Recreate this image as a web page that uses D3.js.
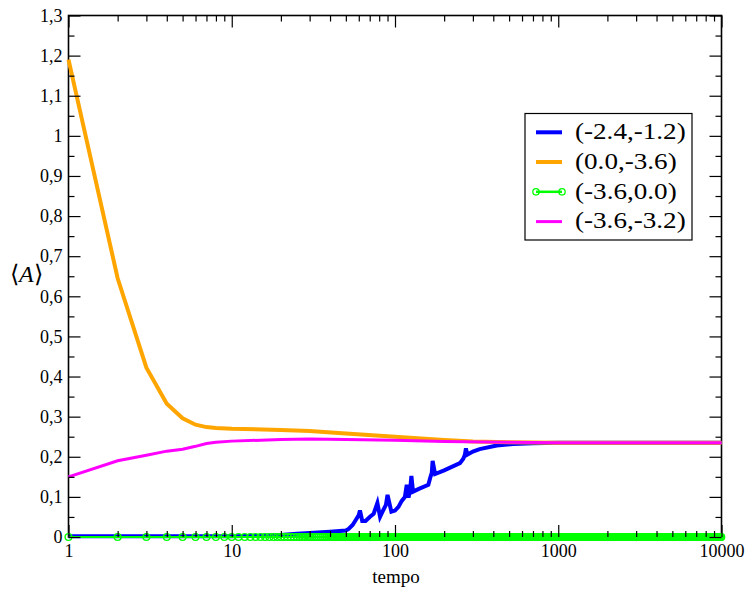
<!DOCTYPE html>
<html>
<head>
<meta charset="utf-8">
<script src="https://cdn.jsdelivr.net/npm/d3@7"></script>
</head>
<body style="margin:0">
<svg id="s" width="746" height="589"></svg>
<script>
// ---------- data ----------
const seriesNames = ["(-2.4,-1.2)", "(0.0,-3.6)", "(-3.6,0.0)", "(-3.6,-3.2)"];
const seriesColors = ["#0000ff", "#ffa500", "#00ff00", "#ff00ff"];

const blueT = [1, 2, 5, 10, 15, 20, 25, 30, 40, 50, 52, 55, 58, 60, 61, 63, 66, 70, 74, 78, 81, 85, 88, 90, 95, 100, 105, 110, 115, 118, 121, 124, 126, 129, 140, 160, 165, 168, 170, 176, 200, 250, 262, 268, 272, 277, 300, 330, 420, 530, 700, 1000, 2000, 10000];
const blueV = [0.002, 0.002, 0.002, 0.002, 0.003, 0.005, 0.008, 0.010, 0.013, 0.016, 0.020, 0.030, 0.045, 0.055, 0.066, 0.040, 0.040, 0.050, 0.058, 0.085, 0.050, 0.068, 0.080, 0.105, 0.063, 0.066, 0.075, 0.090, 0.100, 0.130, 0.098, 0.120, 0.152, 0.113, 0.120, 0.130, 0.150, 0.160, 0.190, 0.157, 0.166, 0.184, 0.195, 0.205, 0.221, 0.205, 0.213, 0.219, 0.228, 0.232, 0.234, 0.235, 0.235, 0.235];

const orangeT = [1, 2, 3, 4, 5, 6, 7, 8, 10, 20, 30, 50, 100, 200, 300, 500, 1000, 10000];
const orangeV = [1.19, 0.645, 0.422, 0.332, 0.296, 0.280, 0.274, 0.272, 0.270, 0.267, 0.264, 0.258, 0.250, 0.242, 0.238, 0.236, 0.235, 0.235];

// green: value 0 at every integer time step (circles merge into a band)
const greenT = d3.range(1, 10001);
const greenV = greenT.map(() => 0);

const magentaT = [1, 2, 3, 4, 5, 6, 7, 8, 10, 20, 30, 50, 100, 200, 500, 1000, 10000];
const magentaV = [0.150, 0.190, 0.204, 0.214, 0.219, 0.226, 0.233, 0.236, 0.239, 0.243, 0.244, 0.243, 0.241, 0.238, 0.236, 0.235, 0.235];

const xMajorTicks = [1, 10, 100, 1000, 10000];
const xTickLabels = ["1", "10", "100", "1000", "10000"];
const yMajorTicks = [0, 0.1, 0.2, 0.3, 0.4, 0.5, 0.6, 0.7, 0.8, 0.9, 1.0, 1.1, 1.2, 1.3];
const yTickLabels = ["0", "0,1", "0,2", "0,3", "0,4", "0,5", "0,6", "0,7", "0,8", "0,9", "1", "1,1", "1,2", "1,3"];

// ---------- layout ----------
const FONT = "serif";
const L = 68.5, R = 721.5, T = 15.5, B = 537;
const svg = d3.select("#s");
const font = (sel, size) => sel.attr("font-size", size).style("font-family", FONT);

const x = d3.scaleLog().domain([1, 10000]).range([L, R]);
const y = d3.scaleLinear().domain([0, 1.3]).range([B, T]);

const xMinor = [];
for (let d = 1; d < 10000; d *= 10) for (let k = 2; k <= 9; k++) xMinor.push(d * k);
const yMinor = yMajorTicks.slice(0, -1).map(v => +(v + 0.05).toFixed(2));

// frame
svg.append("rect").attr("x", L).attr("y", T).attr("width", R - L).attr("height", B - T)
  .attr("fill", "none").attr("stroke", "#000").attr("stroke-width", 1.6);

// ---------- series ----------
const line = d3.line().x(d => x(d[0])).y(d => y(d[1]));
const zip = (a, b) => a.map((t, i) => [t, b[i]]);

const plot = svg.append("g");
plot.append("path").datum(zip(blueT, blueV)).attr("d", line)
  .attr("fill", "none").attr("stroke", seriesColors[0]).attr("stroke-width", 4).attr("stroke-linejoin", "miter");
plot.append("path").datum(zip(orangeT, orangeV)).attr("d", line)
  .attr("fill", "none").attr("stroke", seriesColors[1]).attr("stroke-width", 4);
const gData = zip(greenT, greenV);
plot.append("path").datum(gData).attr("d", line)
  .attr("fill", "none").attr("stroke", seriesColors[2]).attr("stroke-width", 2);
// markers: one circle per distinct half-pixel column (denser ones coincide on screen)
const seen = new Set();
const gMarks = gData.filter(d => {
  const k = Math.round(x(d[0]) * 2);
  if (seen.has(k)) return false;
  seen.add(k); return true;
});
plot.append("g").selectAll("circle").data(gMarks).join("circle")
  .attr("cx", d => x(d[0])).attr("cy", d => y(d[1])).attr("r", 3.4)
  .attr("fill", "none").attr("stroke", seriesColors[2]).attr("stroke-width", 1.4);
plot.append("path").datum(zip(magentaT, magentaV)).attr("d", line)
  .attr("fill", "none").attr("stroke", seriesColors[3]).attr("stroke-width", 3);

// ---------- axes ----------
function styleAxis(g) {
  g.attr("font-family", null).attr("font-size", null);
  g.select(".domain").remove();
  g.selectAll(".tick line").attr("stroke", "#000").attr("stroke-width", 1.2);
  font(g.selectAll("text"), 18).attr("fill", "#000");
}
svg.append("g").attr("transform", `translate(0,${B})`)
  .call(d3.axisBottom(x).tickValues(xMajorTicks).tickSize(-12).tickPadding(7)
    .tickFormat((d, i) => xTickLabels[i])).call(styleAxis);
svg.append("g").attr("transform", `translate(0,${B})`)
  .call(d3.axisBottom(x).tickValues(xMinor).tickSize(-6).tickFormat("")).call(styleAxis);
svg.append("g").attr("transform", `translate(0,${T})`)
  .call(d3.axisTop(x).tickValues(xMajorTicks).tickSize(-12).tickFormat("")).call(styleAxis);
svg.append("g").attr("transform", `translate(0,${T})`)
  .call(d3.axisTop(x).tickValues(xMinor).tickSize(-6).tickFormat("")).call(styleAxis);
svg.append("g").attr("transform", `translate(${L},0)`)
  .call(d3.axisLeft(y).tickValues(yMajorTicks).tickSize(-12).tickPadding(6)
    .tickFormat((d, i) => yTickLabels[i])).call(styleAxis);
svg.append("g").attr("transform", `translate(${L},0)`)
  .call(d3.axisLeft(y).tickValues(yMinor).tickSize(-6).tickFormat("")).call(styleAxis);
svg.append("g").attr("transform", `translate(${R},0)`)
  .call(d3.axisRight(y).tickValues(yMajorTicks).tickSize(-12).tickFormat("")).call(styleAxis);
svg.append("g").attr("transform", `translate(${R},0)`)
  .call(d3.axisRight(y).tickValues(yMinor).tickSize(-6).tickFormat("")).call(styleAxis);

// axis titles
font(svg.append("text").attr("x", (L + R) / 2 + 1).attr("y", 583).attr("text-anchor", "middle"), 19)
  .text("tempo");
const yl = font(svg.append("text").attr("x", 10).attr("y", 282), 24);
yl.append("tspan").text("\u27E8");
yl.append("tspan").style("font-style", "italic").text("A");
yl.append("tspan").text("\u27E9");

// ---------- legend ----------
const lg = svg.append("g");
lg.append("rect").attr("x", 525).attr("y", 113.5).attr("width", 167).attr("height", 126.5)
  .attr("fill", "#fff").attr("stroke", "#000").attr("stroke-width", 1.2);
const rowY = [132.3, 162, 191.8, 221.6];
const textW = [110.7, 101.7, 101.7, 110.7];
const strokeW = [4, 4, 2.5, 3];
seriesNames.forEach((name, i) => {
  lg.append("line").attr("x1", 536).attr("x2", 562).attr("y1", rowY[i]).attr("y2", rowY[i])
    .attr("stroke", seriesColors[i]).attr("stroke-width", strokeW[i]);
  if (i === 2) {
    [536, 562].forEach(cx => lg.append("circle").attr("cx", cx).attr("cy", rowY[i]).attr("r", 3.2)
      .attr("fill", "none").attr("stroke", seriesColors[i]).attr("stroke-width", 1.3));
  }
  font(lg.append("text").attr("x", 575).attr("y", rowY[i] + 6.8), 24)
    .attr("textLength", textW[i]).attr("lengthAdjust", "spacingAndGlyphs").text(name);
});
</script>
</body>
</html>
